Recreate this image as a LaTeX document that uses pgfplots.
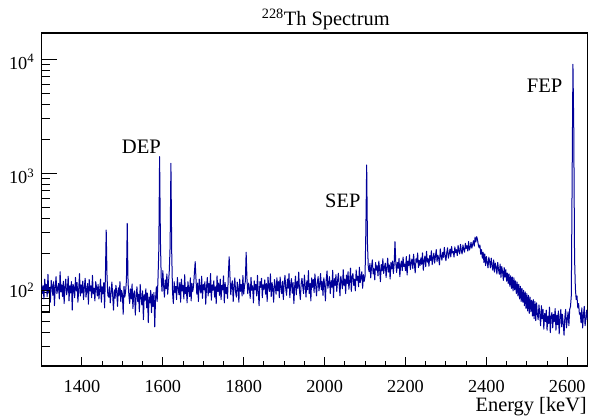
\documentclass[border=0pt]{standalone}
\usepackage{fontspec}
\setmainfont{Liberation Serif}
\usepackage{pgfplots}
\pgfplotsset{compat=1.18}
\definecolor{rootblue}{RGB}{0,0,153}
\begin{document}
\begin{tikzpicture}[x=1pt,y=1pt]
\path[use as bounding box] (0,0) rectangle (589,415);
\begin{axis}[
  at={(41.5pt,49pt)}, anchor=south west,
  scale only axis, width=546pt, height=333pt,
  xmin=1300, xmax=2650, ymode=log, ymin=20.4, ymax=17000,
  axis line style={line width=1.1pt},
  tick pos=left, tick align=inside,
  xtick={1400,1600,1800,2000,2200,2400,2600},
  minor x tick num=3,
  ytick={100,1000,10000},
  yticklabels={10\textsuperscript{2},10\textsuperscript{3},10\textsuperscript{4}},
  minor ytick={30,40,50,60,70,80,90,200,300,400,500,600,700,800,900,2000,3000,4000,5000,6000,7000,8000,9000},
  major tick length=15pt, minor tick length=8pt,
  xtick style={/pgfplots/major tick length=9pt, /pgfplots/minor tick length=5pt},
  every tick/.style={black, line width=0.9pt},
  /pgf/number format/assume math mode=true,
  /pgf/number format/1000 sep={},
  tick label style={font=\fontsize{18.3}{20}\selectfont, inner sep=0pt},
  xticklabel style={anchor=base, yshift=-27pt},
  yticklabel style={anchor=base east, xshift=-7pt, yshift=-10pt},
  clip=true,
]
\addplot[rootblue, line width=1.0pt, line join=round] coordinates {
(1300,108)(1302,88)(1304,103)(1306,79)(1308,118)(1310,93)(1312,106)(1314,83)(1316,130)(1318,89)
(1320,98)(1322,74)(1324,115)(1326,103)(1328,85)(1330,112)(1332,69)(1334,100)(1336,124)(1338,88)
(1340,96)(1342,108)(1344,79)(1346,137)(1348,91)(1350,105)(1352,83)(1354,113)(1356,72)(1358,101)
(1360,118)(1362,86)(1364,95)(1366,125)(1368,76)(1370,103)(1372,89)(1374,112)(1376,63)(1378,106)
(1380,100)(1382,81)(1384,122)(1386,93)(1388,110)(1390,74)(1392,96)(1394,132)(1396,84)(1398,105)
(1400,89)(1402,113)(1404,78)(1406,101)(1408,120)(1410,82)(1412,95)(1414,108)(1416,71)(1418,117)
(1420,93)(1422,103)(1424,81)(1426,127)(1428,88)(1430,98)(1432,76)(1434,112)(1436,100)(1438,84)
(1440,106)(1442,79)(1444,96)(1446,118)(1448,74)(1450,101)(1452,88)(1454,110)(1456,66)(1458,125)
(1460,318)(1462,125)(1464,85)
(1466,82)(1468,101)(1470,73)(1472,89)(1474,111)(1476,85)(1478,63)(1480,95)(1482,80)(1484,104)
(1486,90)(1488,68)(1490,99)(1492,84)(1494,112)(1496,75)(1498,94)(1500,87)(1502,58)(1504,102)
(1506,82)(1508,92)(1510,115)(1512,364)(1514,110)
(1516,86)(1518,72)(1520,97)(1522,79)(1524,107)(1526,65)(1528,88)(1530,93)(1532,57)(1534,84)
(1536,101)(1538,75)(1540,87)(1542,61)(1544,106)(1546,82)(1548,70)(1550,93)(1552,52)(1554,86)
(1556,77)(1558,97)(1560,66)(1562,89)(1564,49)(1566,82)(1568,73)(1570,94)(1572,60)(1574,87)
(1576,68)(1578,90)(1580,45)(1582,80)(1584,101)(1586,75)(1588,118)(1590,210)(1592,1400)(1594,260)
(1596,121)(1598,92)(1600,140)(1602,103)(1604,82)(1606,116)(1608,97)(1610,131)(1612,87)(1614,109)
(1616,140)(1618,230)(1620,1224)(1622,200)(1624,90)
(1626,72)(1628,112)(1630,90)(1632,102)(1634,78)(1636,122)(1638,97)(1640,86)(1642,110)
(1644,74)(1646,118)(1648,93)(1650,104)(1652,79)(1654,129)(1656,88)(1658,100)(1660,73)(1662,112)
(1664,96)(1666,83)(1668,121)(1670,76)(1672,108)(1674,92)(1676,103)(1678,133)(1680,168)(1682,118)
(1684,87)(1686,109)(1688,75)(1690,118)(1692,98)(1694,89)(1696,125)(1698,80)(1700,106)(1702,95)
(1704,112)(1706,71)(1708,100)(1710,122)(1712,84)(1714,108)(1716,90)(1718,132)(1720,77)(1722,105)
(1724,94)(1726,114)(1728,82)(1730,101)(1732,72)(1734,126)(1736,92)(1738,109)(1740,85)(1742,118)
(1744,78)(1746,104)(1748,95)(1750,126)(1752,73)(1754,110)(1756,88)(1758,100)(1760,80)(1762,130)
(1764,185)(1766,124)
(1768,86)(1770,106)(1772,114)(1774,75)(1776,101)(1778,121)(1780,90)(1782,82)(1784,111)(1786,98)
(1788,74)(1790,118)(1792,92)(1794,106)(1796,84)(1798,127)(1800,87)(1802,103)(1804,113)(1806,203)(1808,120)
(1810,88)(1812,109)(1814,98)(1816,80)(1818,122)(1820,94)(1822,103)(1824,73)(1826,114)(1828,95)
(1830,106)(1832,84)(1834,127)(1836,91)(1838,69)(1840,112)(1842,100)(1844,120)(1846,81)(1848,105)
(1850,96)(1852,116)(1854,87)(1856,108)(1858,75)(1860,123)(1862,100)(1864,92)(1866,131)(1868,83)
(1870,110)(1872,97)(1874,74)(1876,117)(1878,103)(1880,87)(1882,121)(1884,93)(1886,112)(1888,81)
(1890,123)(1892,100)(1894,88)(1896,113)(1898,78)(1900,108)(1902,127)(1904,96)(1906,85)(1908,118)
(1910,98)(1912,132)(1914,81)(1916,105)(1918,119)(1920,89)(1922,110)(1924,72)(1926,102)(1928,125)
(1930,86)(1932,113)(1934,98)(1936,136)(1938,92)(1940,78)(1942,108)(1944,120)(1946,101)(1948,88)
(1950,128)(1952,104)(1954,82)(1956,114)(1958,95)(1960,140)(1962,88)(1964,108)(1966,76)(1968,121)
(1970,100)(1972,117)(1974,90)(1976,131)(1978,104)(1980,84)(1982,111)(1984,124)(1986,93)(1988,106)
(1990,132)(1992,95)(1994,113)(1996,85)(1998,121)(2000,106)(2002,76)(2004,117)(2006,139)(2008,98)
(2010,108)(2012,124)(2014,88)(2016,114)(2018,100)(2020,141)(2022,81)(2024,119)(2026,104)(2028,129)
(2030,92)(2032,114)(2034,133)(2036,106)(2038,84)(2040,125)(2042,111)(2044,97)(2046,143)(2048,104)
(2050,118)(2052,88)(2054,128)(2056,108)(2058,137)(2060,96)(2062,114)(2064,147)(2066,92)(2068,123)
(2070,132)(2072,104)(2074,118)(2076,93)(2078,142)(2080,115)(2082,125)(2084,101)(2086,150)(2088,110)
(2090,122)(2092,137)(2094,98)(2096,129)(2098,113)(2100,125)(2102,320)(2104,1183)(2106,240)(2108,150)
(2110,137)(2112,162)(2114,121)(2116,151)(2118,174)(2120,131)(2122,146)(2124,116)(2126,165)(2128,141)
(2130,155)(2132,126)(2134,170)(2136,145)(2138,112)(2140,158)(2142,139)(2144,178)(2146,132)(2148,151)
(2150,163)(2152,122)(2154,148)(2156,180)(2158,136)(2160,157)(2162,118)(2164,165)(2166,145)(2168,170)
(2170,132)(2172,161)(2174,251)(2176,165)
(2178,135)(2180,165)(2182,147)(2184,179)(2186,124)(2188,157)(2190,170)(2192,140)(2194,184)(2196,152)
(2198,160)(2200,140)(2202,186)(2204,128)(2206,170)(2208,155)(2210,193)(2212,143)(2214,165)(2216,177)
(2218,146)(2220,195)(2222,158)(2224,134)(2226,178)(2228,166)(2230,200)(2232,149)(2234,172)(2236,155)
(2238,181)(2240,159)(2242,200)(2244,141)(2246,171)(2248,188)(2250,152)(2252,207)(2254,166)(2256,179)
(2258,153)(2260,190)(2262,172)(2264,209)(2266,158)(2268,181)(2270,199)(2272,163)(2274,187)(2276,214)
(2278,168)(2280,191)(2282,180)(2284,157)(2286,217)(2288,188)(2290,173)(2292,202)(2294,183)(2296,224)
(2298,187)(2300,171)(2302,202)(2304,222)(2306,180)(2308,195)(2310,216)(2312,185)(2314,228)(2316,200)
(2318,206)(2320,184)(2322,226)(2324,201)(2326,214)(2328,190)(2330,233)(2332,209)(2334,196)(2336,238)
(2338,209)(2340,196)(2342,235)(2344,214)(2346,203)(2348,243)(2350,219)(2352,232)(2354,208)(2356,252)
(2358,212)(2360,224)(2362,248)(2364,220)(2366,238)(2368,256)(2370,230)(2372,275)(2374,250)(2376,278)
(2378,262)(2380,236)(2382,222)(2384,235)(2386,195)
(2388,214)(2390,180)(2392,203)(2394,165)(2396,196)(2398,155)(2400,186)(2402,166)(2404,148)(2406,184)
(2408,168)(2410,148)(2412,180)(2414,156)(2416,141)(2418,174)(2420,136)(2422,163)(2424,150)(2426,131)
(2428,165)(2430,143)(2432,130)(2434,160)(2436,122)(2438,152)(2440,137)(2442,115)(2444,149)(2446,123)
(2448,143)(2450,113)(2452,133)(2454,108)(2456,131)(2458,102)(2460,126)(2462,98)(2464,123)(2466,93)
(2468,121)(2470,95)(2472,114)(2474,88)(2476,111)(2478,84)(2480,106)(2482,79)(2484,102)(2486,75)
(2488,98)(2490,74)(2492,94)(2494,69)(2496,91)(2498,65)(2500,88)(2502,62)(2504,85)(2506,59)
(2508,82)(2510,61)(2512,77)(2514,56)(2516,78)(2518,53)(2520,75)(2522,51)(2524,73)(2526,58)
(2528,52)(2530,70)(2532,58)(2534,46)(2536,69)(2538,53)(2540,64)(2542,43)(2544,59)(2546,50)
(2548,63)(2550,42)(2552,56)(2554,48)(2556,67)(2558,40)(2560,55)(2562,60)(2564,44)(2566,58)
(2568,50)(2570,65)(2572,42)(2574,57)(2576,47)(2578,62)(2580,39)(2582,53)(2584,64)(2586,45)
(2588,58)(2590,48)(2592,38)(2594,55)(2596,64)(2598,44)(2600,52)(2602,61)(2604,46)(2606,64)
(2608,68)(2610,85)(2612,900)(2614,9040)(2616,2500)(2618,180)
(2620,98)(2622,78)(2624,84)(2626,66)(2628,72)(2630,58)
(2632,60)(2634,49)(2636,66)(2638,44)(2640,57)(2642,68)(2644,46)(2646,53)(2648,63)(2650,52)
};
\end{axis}
\draw[line width=0.8pt] (41.5,103.3) rectangle (49.5,125);
\node[anchor=base west, inner sep=0pt, font=\fontsize{20.4}{22}\selectfont] at (261.7,389) {\textsuperscript{228}Th Spectrum};
\node[anchor=base east, inner sep=0pt, font=\fontsize{20.4}{22}\selectfont] at (587,4) {Energy [keV]};
\node[anchor=base west, inner sep=0pt, font=\fontsize{20.6}{22}\selectfont] at (121.7,261.7) {DEP};
\node[anchor=base west, inner sep=0pt, font=\fontsize{20.4}{22}\selectfont] at (325,207) {SEP};
\node[anchor=base west, inner sep=0pt, font=\fontsize{20.6}{22}\selectfont] at (526.7,322) {FEP};
\end{tikzpicture}
\end{document}
